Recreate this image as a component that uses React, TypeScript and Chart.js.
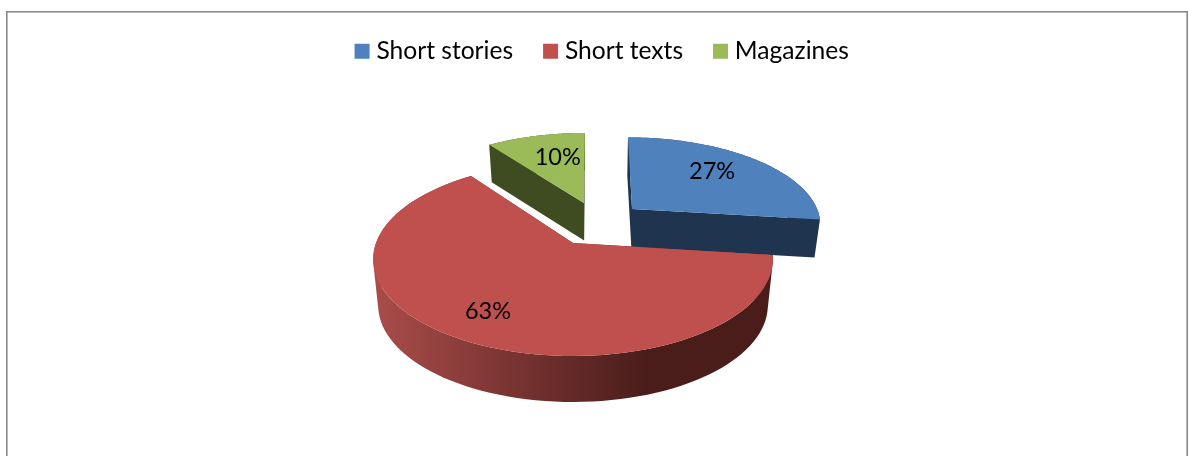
import React, { useEffect, useRef } from "react";
import { Chart, registerables } from "chart.js";

Chart.register(...registerables);

const categories = ["Short stories", "Short texts", "Magazines"];
const shares = [27, 63, 10];
const faceColors = ["#4F81BD", "#C0504D", "#9BBB59"];
const wallColors = ["#1F344F", "#4A1D1B", "#3F4C21"];

// Perspective of the tilted pie
const VIEW = { cy: 243, radius: 197, ySpread: 94, persp: 0.168, shrink: 0.975 };
// Vanishing x, explosion of each slice in the tilted plane, thickness and label placement
const vanishX = [602, 573, 590];
const explodeX = [32, 0, -6.46];
const explodeV = [-0.385, 0, -0.457];
const thickness = [38, 46, 37.5];
const labelRadius = [0.685, 0.755, 0.64];
const labelTurn = [-0.075, 0, 0.06];
const drawOrder = [0, 2, 1];

const FONT = "Lato, 'Open Sans', sans-serif";
const LEGEND_SIZE = 24.6;
const LABEL_SIZE = 23.5;

function rimPoint(i: number, a: number, r: number, drop: number) {
  const X = explodeX[i] + VIEW.radius * r * Math.cos(a);
  const V = explodeV[i] + r * Math.sin(a);
  const w = 1 - VIEW.persp * V;
  let x = X / w;
  let y = VIEW.cy + (VIEW.ySpread * V) / w;
  if (drop > 0) {
    x *= VIEW.shrink;
    y += drop;
  }
  return { x: vanishX[i] + x, y };
}

const tiltedPie = {
  id: "tiltedPie",
  beforeDraw(chart: any) {
    const { ctx, width, height } = chart;
    ctx.save();
    ctx.fillStyle = "#fff";
    ctx.fillRect(0, 0, width, height);
    ctx.strokeStyle = "#8a8a8a";
    ctx.lineWidth = 1.6;
    ctx.strokeRect(6.8, 11.8, width - 8.6, height + 40);
    ctx.restore();
  },
  beforeDatasetsDraw(chart: any) {
    const { ctx } = chart;
    const arcs = chart.getDatasetMeta(0).data;
    ctx.save();
    drawOrder.forEach((i) => {
      const { startAngle, endAngle } = arcs[i].getProps(["startAngle", "endAngle"], true);
      const steps = 96;
      const top: { x: number; y: number }[] = [];
      const bottom: { x: number; y: number }[] = [];
      for (let s = 0; s <= steps; s++) {
        const a = startAngle + ((endAngle - startAngle) * s) / steps;
        top.push(rimPoint(i, a, 1, 0));
        bottom.push(rimPoint(i, a, 1, thickness[i]));
      }
      const apexTop = rimPoint(i, 0, 0, 0);
      const apexBottom = rimPoint(i, 0, 0, thickness[i]);

      let wall: any = wallColors[i];
      if (i === 1) {
        wall = ctx.createLinearGradient(378, 0, 645, 0);
        wall.addColorStop(0, "#A84C49");
        wall.addColorStop(1, wallColors[1]);
      }
      ctx.fillStyle = wall;

      // All wall quads go in one path with one winding, so no seams show between them
      const quad = (pts: { x: number; y: number }[]) => {
        let area = 0;
        pts.forEach((p, k) => {
          const q = pts[(k + 1) % pts.length];
          area += p.x * q.y - q.x * p.y;
        });
        const ordered = area < 0 ? [...pts].reverse() : pts;
        ordered.forEach((p, k) => (k ? ctx.lineTo(p.x, p.y) : ctx.moveTo(p.x, p.y)));
        ctx.closePath();
      };
      ctx.beginPath();
      quad([apexTop, top[0], bottom[0], apexBottom]);
      quad([apexTop, top[steps], bottom[steps], apexBottom]);
      for (let k = 0; k < steps; k++) quad([top[k], top[k + 1], bottom[k + 1], bottom[k]]);
      ctx.fill("nonzero");

      // top face
      ctx.fillStyle = faceColors[i];
      ctx.beginPath();
      ctx.moveTo(apexTop.x, apexTop.y);
      top.forEach((p) => ctx.lineTo(p.x, p.y));
      ctx.closePath();
      ctx.fill();
    });

    ctx.fillStyle = "#000";
    ctx.font = `${LABEL_SIZE}px ${FONT}`;
    ctx.textAlign = "center";
    ctx.textBaseline = "middle";
    shares.forEach((v, i) => {
      const { startAngle, endAngle } = arcs[i].getProps(["startAngle", "endAngle"], true);
      const mid = (startAngle + endAngle) / 2 + labelTurn[i];
      const p = rimPoint(i, mid, labelRadius[i], 0);
      ctx.fillText(`${v}%`, p.x, p.y);
    });
    ctx.restore();
    return false;
  },
};

export default function App() {
  const ref = useRef<HTMLCanvasElement>(null);
  useEffect(() => {
    const chart = new Chart(ref.current!, {
      type: "pie",
      data: {
        labels: categories,
        datasets: [{ data: shares, backgroundColor: faceColors, borderWidth: 0 }],
      },
      options: {
        responsive: false,
        animation: false,
        layout: { padding: { left: 20, top: 3.5 } },
        plugins: {
          tooltip: { enabled: false },
          legend: {
            position: "top",
            labels: {
              color: "#000",
              font: { family: FONT, size: LEGEND_SIZE },
              boxWidth: 4,
              boxHeight: 4,
              padding: 35.5,
              generateLabels: () =>
                categories.map((text, i) => ({
                  text,
                  index: i,
                  fillStyle: faceColors[i],
                  strokeStyle: faceColors[i],
                  lineWidth: 11,
                  fontColor: "#000",
                })),
            },
          },
        },
      },
      plugins: [tiltedPie],
    } as any);
    return () => chart.destroy();
  }, []);
  return (
    <div style={{ position: "absolute", left: 0, top: 0, width: 1189, height: 456 }}>
      <canvas ref={ref} width={1189} height={456} style={{ display: "block" }} />
    </div>
  );
}
